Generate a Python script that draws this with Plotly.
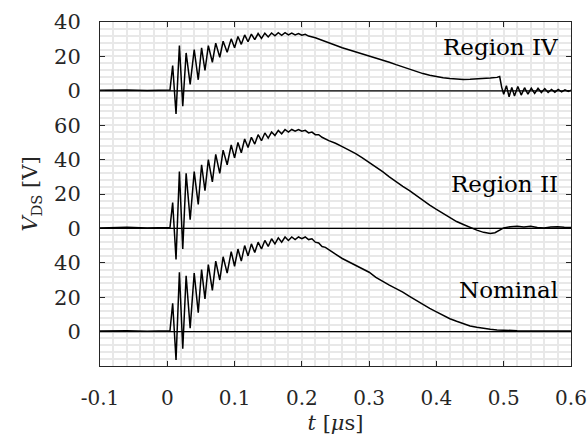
import plotly.graph_objects as go

# ---------------- data ----------------
t_nom = [-0.1, -0.06, -0.03, 0.0, 0.004, 0.008, 0.013, 0.018, 0.023, 0.028, 0.034, 0.040, 0.046,
         0.051, 0.056, 0.061, 0.067, 0.072, 0.078, 0.083, 0.089, 0.095, 0.100, 0.105, 0.110,
         0.115, 0.120, 0.125, 0.130, 0.135, 0.140, 0.145, 0.150, 0.155, 0.160, 0.165, 0.170,
         0.175, 0.180, 0.185, 0.190, 0.195, 0.200, 0.205, 0.210, 0.215, 0.220, 0.225, 0.230,
         0.235, 0.240, 0.250, 0.260, 0.270, 0.280, 0.290, 0.300, 0.310, 0.320, 0.330, 0.340,
         0.350, 0.360, 0.370, 0.380, 0.390, 0.400, 0.410, 0.420, 0.430, 0.440, 0.450, 0.460,
         0.470, 0.480, 0.490, 0.500, 0.520, 0.550, 0.600]
v_nom = [0.3, 0.5, 0.2, 0.4, 0.5, 16.5, -16.5, 34.5, -10, 32.5, 2, 34, 11,
         36, 19, 39, 24, 41, 30, 43.5, 34, 46.5, 38, 48, 41,
         50, 44, 51, 46, 52, 48, 53, 49.5, 54, 51, 54.5, 52,
         55, 53, 55, 53.5, 55, 54, 55, 53.5, 54, 52, 51.5, 49.5,
         49, 47.5, 45, 42.5, 40.5, 38.5, 36.5, 34.5, 31.5, 29, 27, 25,
         23, 20.5, 18, 15.5, 13.5, 11.5, 9.5, 7.5, 6, 4.5, 3.3, 2.5,
         1.8, 1.3, 1.0, 0.7, 0.5, 0.4, 0.4]

t_r2 = [-0.1, -0.06, -0.03, 0.0, 0.004, 0.008, 0.013, 0.018, 0.023, 0.028, 0.034, 0.040, 0.046,
        0.051, 0.056, 0.061, 0.067, 0.072, 0.078, 0.083, 0.089, 0.095, 0.100, 0.105, 0.110,
        0.115, 0.120, 0.125, 0.130, 0.135, 0.140, 0.145, 0.150, 0.155, 0.160, 0.165, 0.170,
        0.175, 0.180, 0.185, 0.190, 0.195, 0.200, 0.205, 0.210, 0.215, 0.220, 0.225, 0.230,
        0.240, 0.250, 0.260, 0.270, 0.280, 0.290, 0.300, 0.310, 0.320, 0.330, 0.340, 0.350,
        0.360, 0.370, 0.380, 0.390, 0.400, 0.410, 0.420, 0.430, 0.440, 0.450, 0.460, 0.470,
        0.480, 0.487, 0.493, 0.500, 0.510, 0.520, 0.530, 0.540, 0.550, 0.560, 0.570, 0.580,
        0.590, 0.600]
v_r2 = [0.3, 0.6, 0.3, 0.5, 0.5, 15, -18, 33, -12, 32, 5, 33, 14,
        37, 22, 40, 27, 43, 32, 45.5, 37, 48.5, 41, 50, 44,
        52, 47, 53, 49, 54.5, 51, 55.5, 52.5, 56, 54, 57, 55,
        57.5, 56, 57.5, 56.5, 57.5, 56.5, 57, 55.5, 56, 54.5, 54.5, 53,
        51, 49.5, 47.5, 45.5, 43.5, 41, 38.5, 36, 33, 30, 27, 24.5,
        22, 19, 16, 13.5, 11, 8.5, 6, 4, 2.3, 0.5, -1, -2.3,
        -3, -2.5, -1, 0.3, 1, 1.2, 0.8, 1.3, 0.5, 0.3, 0.8, 1,
        0.7, 0.5]

t_r4 = [-0.1, -0.06, -0.03, 0.0, 0.004, 0.008, 0.013, 0.018, 0.023, 0.028, 0.034, 0.040, 0.046,
        0.051, 0.056, 0.061, 0.067, 0.072, 0.078, 0.083, 0.089, 0.095, 0.100, 0.105, 0.110,
        0.115, 0.120, 0.125, 0.130, 0.135, 0.140, 0.145, 0.150, 0.155, 0.160, 0.165, 0.170,
        0.175, 0.180, 0.185, 0.190, 0.195, 0.200, 0.205, 0.210, 0.220, 0.230, 0.240, 0.250,
        0.260, 0.270, 0.280, 0.290, 0.300, 0.310, 0.320, 0.330, 0.340, 0.350, 0.360, 0.370,
        0.380, 0.390, 0.400, 0.410, 0.420, 0.430, 0.440, 0.450, 0.460, 0.470, 0.480, 0.490,
        0.494, 0.497, 0.500, 0.504, 0.508, 0.512, 0.516, 0.521, 0.526, 0.531, 0.536, 0.541,
        0.546, 0.551, 0.556, 0.561, 0.566, 0.571, 0.576, 0.581, 0.586, 0.591, 0.596, 0.600]
v_r4 = [0.3, 0.5, 0.2, 0.4, 0.5, 14.7, -13.4, 26.3, -9, 22, 3.7, 24, 6.4,
        25, 11.8, 26.3, 16.6, 27.7, 19.5, 28.8, 22.4, 30.2, 25, 31.6, 27,
        32.5, 28.5, 33, 29.7, 33.3, 30.5, 33.5, 31.3, 33.6, 32, 33.8, 32.3,
        33.8, 32.5, 33.6, 32.5, 33.3, 32.3, 32.8, 31.8, 30.8, 29.5, 28, 26.5,
        25, 23.8, 22.8, 21.6, 20.5, 19.3, 18, 16.6, 15.2, 13.8, 12.4, 11.2,
        10, 9, 8.2, 7.6, 7.1, 6.8, 6.6, 6.7, 6.8, 7, 7.4, 7.8,
        8.3, 2, -2, 3, -3.5, 2, -3, 2.5, -2.5, 1.8, -2, 1.5,
        -1.5, 1.5, -1, 1.3, -1, 0.8, -0.8, 0.8, -0.6, 0.6, -0.4, 0.3]

series_names = ["Nominal", "Region II", "Region IV"]
series_t = [t_nom, t_r2, t_r4]
series_v = [v_nom, v_r2, v_r4]
offsets = [0, 60, 140]          # vertical stacking offsets on the shared axis

y_tickvals = [0, 20, 40, 60, 80, 100, 120, 140, 160, 180]
y_ticktext = ["0", "20", "40", "0", "20", "40", "60", "0", "20", "40"]
x_tickvals = [-0.1, 0, 0.1, 0.2, 0.3, 0.4, 0.5, 0.6]
x_ticktext = ["-0.1", "0", "0.1", "0.2", "0.3", "0.4", "0.5", "0.6"]

# ---------------- figure ----------------
FONT = "DejaVu Serif"
fig = go.Figure()

for name, off in zip(series_names, offsets):
    fig.add_hline(y=off, line=dict(color="black", width=1.2), layer="above")

for name, tt, vv, off in zip(series_names, series_t, series_v, offsets):
    fig.add_trace(go.Scatter(x=tt, y=[v + off for v in vv], mode="lines",
                             line=dict(color="black", width=1.5), name=name,
                             showlegend=False))

label_y = {"Region IV": 165.5, "Region II": 86, "Nominal": 24}
for name in series_names:
    fig.add_annotation(x=0.583, y=label_y[name], xref="x", yref="y", text=name,
                       showarrow=False, xanchor="right", yanchor="middle",
                       font=dict(family=FONT, size=23, color="black"))

grid = "#e8e8e8"
fig.update_xaxes(range=[-0.1, 0.6], tickvals=x_tickvals, ticktext=x_ticktext,
                 ticks="inside", ticklen=5, tickcolor="#262626", mirror="ticks",
                 showline=True, linecolor="#262626", linewidth=1,
                 showgrid=True, gridcolor=grid, gridwidth=1.5, zeroline=False,
                 minor=dict(dtick=0.02, showgrid=True, gridcolor=grid, gridwidth=1.5),
                 tickfont=dict(family=FONT, size=20, color="#262626"),
                 ticklabelstandoff=14, automargin=False,
                 title=dict(text="<i>t</i> [<i>μ</i>s]", standoff=6,
                            font=dict(family=FONT, size=21, color="#262626")))
fig.update_yaxes(range=[-20, 180], tickvals=y_tickvals, ticktext=y_ticktext,
                 ticks="inside", ticklen=5, tickcolor="#262626", mirror="ticks",
                 showline=True, linecolor="#262626", linewidth=1,
                 showgrid=True, gridcolor=grid, gridwidth=1.5, zeroline=False,
                 minor=dict(dtick=4, tick0=0, showgrid=True, gridcolor=grid, gridwidth=1.5),
                 tickfont=dict(family=FONT, size=21, color="#262626"),
                 ticklabelstandoff=14, automargin=False,
                 title=dict(text="<i>V</i><sub>DS</sub> [V]", standoff=10,
                            font=dict(family=FONT, size=21, color="#262626")))

fig.update_layout(width=587, height=440, plot_bgcolor="white", paper_bgcolor="white",
                  margin=dict(l=100, r=16, t=22, b=74), showlegend=False)

fig.write_html("out.html", config={"displayModeBar": False},
               post_script="document.body.style.margin='0';document.body.style.overflow='hidden';")
